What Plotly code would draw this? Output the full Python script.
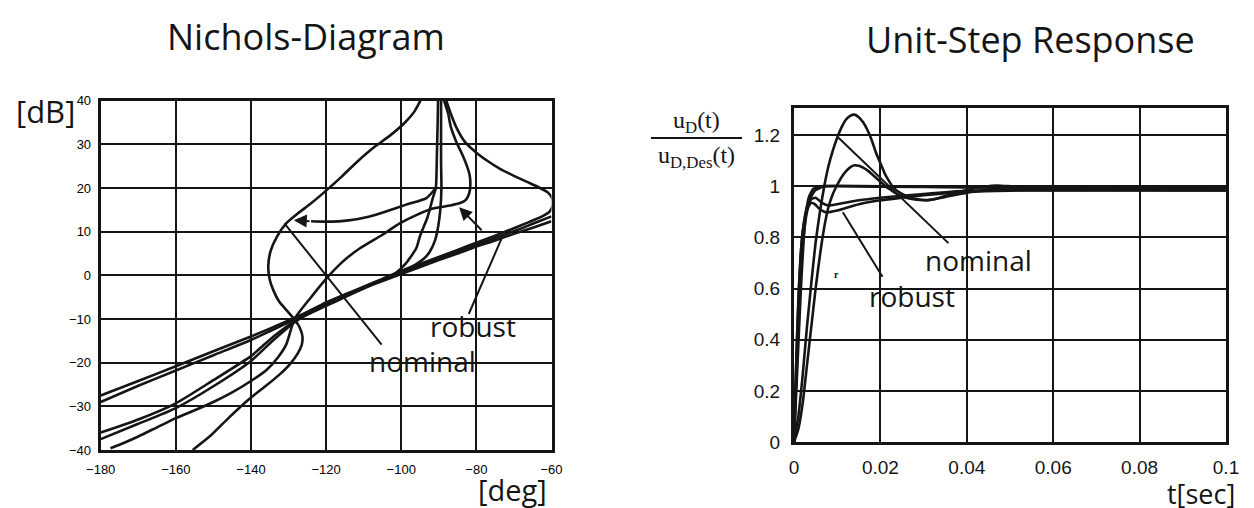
import plotly.graph_objects as go

W, H = 1254, 508

# ---------------- Nichols diagram data (phase [deg], gain [dB]) ----------------
nom_deg = [-94.9, -96.5, -99, -103, -107, -111.5, -116, -120, -124, -127.5, -130.5, -133, -134.8, -135.4,
           -135, -134, -132.5, -130.5, -128.5, -127, -126.3, -126.5, -127.5, -129.5, -132.5, -136, -140,
           -146, -150.5, -155.5]
nom_db = [40, 37.5, 35, 32, 29.5, 26.2, 22.5, 19.4, 16.5, 14.2, 12, 9, 5.5, 2,
          -1, -3.5, -6, -8, -10, -12, -14, -16, -17.8, -20.2, -22.8, -25.3, -28,
          -32.7, -36.5, -40]

c_deg = [-88.6, -87.5, -86.8, -85.3, -83.6, -82.5, -81.8, -81.6, -81.9, -82.8, -84.5, -87, -91.6, -96,
         -100.4, -105, -111, -115.5, -120, -124, -128.4, -130.6, -133, -136, -140, -145, -150, -155,
         -160, -165, -170, -175, -177.4]
c_db = [40, 37, 34, 30.5, 27.4, 25, 23, 20.8, 18.8, 17.3, 16.5, 16.0, 15.3, 13.8,
        11.9, 9.3, 6.2, 3.2, -0.8, -5, -10, -15.8, -19, -21.8, -24.2, -26.8, -29, -30.9,
        -32.7, -34.8, -36.9, -38.8, -39.6]

r_deg = [-88, -86.8, -85.4, -83, -80, -77, -73.7, -70, -66.5, -63.5, -61, -59.8, -59.7, -60.5, -62.5,
         -66, -70, -75, -80, -85, -90, -95, -100, -105, -110, -115, -120, -124, -128, -135, -140,
         -150, -160, -170, -180]
r_db = [40, 37, 34, 30.5, 28.1, 26.2, 24.4, 22.8, 21.4, 20.2, 19, 17.6, 16, 14.6, 13.5,
        12.2, 10.8, 9.1, 7.5, 5.8, 4.2, 2.6, 1.0, -0.8, -2.6, -4.4, -6.2, -8, -9.6, -12.2, -14,
        -17.4, -20.8, -24.2, -27.5]

v1_deg = [-90.2, -90.3, -90.5, -90.8, -91.6, -93, -95, -96, -99, -102, -106, -110, -115, -120, -124,
          -128, -134, -140, -150, -160, -170, -180]
v1_db = [40, 35, 28, 20, 17.7, 13.3, 9, 6.2, 2.5, 0.2, -1.4, -3, -5, -7, -8.6,
         -10.3, -14, -18.5, -24, -29.3, -33, -36]

v2_deg = [-89.4, -89.4, -89.4, -89.3, -89.6, -90.2, -91, -92.4, -94, -96, -100, -105, -110, -115,
          -120, -124, -128, -134, -140, -150, -160, -170, -180]
v2_db = [40, 33, 26, 20, 15, 11, 8, 5.4, 3.8, 2.6, 0.8, -1, -2.8, -4.8,
         -6.7, -8.4, -10.5, -14.8, -19.6, -25.4, -30.4, -34, -37.5]

a2_deg = [-60, -65, -70, -75, -80, -85, -90, -95, -100, -105, -110, -115, -120, -124, -128, -135,
          -140, -150, -160, -170, -180]
a2_db = [12.4, 10.9, 9.5, 8.0, 6.6, 5.0, 3.5, 1.9, 0.3, -1.3, -2.9, -4.6, -6.4, -8, -9.9, -12.8,
         -14.8, -18.3, -21.8, -25.3, -29]

a3_deg = [-60, -65, -70, -80, -90, -100, -110, -120, -128]
a3_db = [13.5, 11.8, 10.1, 7.0, 3.9, 0.8, -2.7, -6.3, -10]

# curved arrow (peak shift)
arc_deg = [-90.8, -93.3, -98.7, -103.5, -108.4, -114, -120, -124]
arc_db = [20, 17.7, 16.2, 14.8, 13.5, 12.6, 12.3, 12.4]

nich_xticks = [-180, -160, -140, -120, -100, -80, -60]
nich_yticks = [-40, -30, -20, -10, 0, 10, 20, 30, 40]

# ---------------- Unit-step response data ----------------
s1_t = [0, 0.001, 0.002, 0.003, 0.004, 0.005, 0.006, 0.007, 0.008, 0.009, 0.010, 0.011, 0.012, 0.013,
        0.014, 0.015, 0.016, 0.017, 0.018, 0.019, 0.020, 0.021, 0.022, 0.023, 0.025, 0.027, 0.029, 0.031,
        0.033, 0.036, 0.040, 0.044, 0.047, 0.050, 0.055, 0.060, 0.070, 0.080, 0.090, 0.100]
s1_v = [0, 0.10, 0.26, 0.45, 0.62, 0.78, 0.90, 1.00, 1.08, 1.14, 1.19, 1.23, 1.26, 1.275,
        1.28, 1.27, 1.25, 1.22, 1.18, 1.13, 1.09, 1.05, 1.02, 0.995, 0.97, 0.955, 0.948, 0.945,
        0.952, 0.968, 0.985, 0.998, 1.003, 1.0, 0.993, 0.99, 0.988, 0.987, 0.986, 0.986]

s2_t = [0, 0.001, 0.002, 0.003, 0.004, 0.005, 0.006, 0.007, 0.008, 0.009, 0.010, 0.011, 0.012, 0.013,
        0.014, 0.015, 0.016, 0.017, 0.018, 0.019, 0.020, 0.022, 0.024, 0.026, 0.028, 0.030, 0.032, 0.035,
        0.040, 0.045, 0.050, 0.060, 0.080, 0.100]
s2_v = [0, 0.05, 0.15, 0.30, 0.45, 0.60, 0.73, 0.84, 0.92, 0.97, 1.005, 1.035, 1.058, 1.074,
        1.082, 1.08, 1.073, 1.062, 1.048, 1.033, 1.018, 0.99, 0.968, 0.955, 0.948, 0.945, 0.948, 0.958,
        0.975, 0.987, 0.99, 0.989, 0.987, 0.986]

s3_t = [0, 0.0005, 0.001, 0.0015, 0.002, 0.003, 0.004, 0.005, 0.007, 0.010, 0.020, 0.030, 0.050, 0.070, 0.100]
s3_v = [0, 0.30, 0.55, 0.72, 0.82, 0.92, 0.96, 0.985, 1.0, 1.002, 1.0, 0.998, 0.995, 0.993, 0.99]

s4_t = [0, 0.0006, 0.0012, 0.002, 0.003, 0.004, 0.0048, 0.006, 0.0075, 0.010, 0.015, 0.020, 0.025,
        0.030, 0.040, 0.050, 0.060, 0.100]
s4_v = [0, 0.35, 0.62, 0.82, 0.91, 0.935, 0.93, 0.91, 0.898, 0.905, 0.93, 0.945, 0.955,
        0.965, 0.978, 0.983, 0.984, 0.984]

s5_t = [0, 0.0007, 0.0014, 0.0022, 0.003, 0.004, 0.005, 0.0065, 0.008, 0.010, 0.015, 0.020, 0.030,
        0.040, 0.060, 0.100]
s5_v = [0, 0.33, 0.60, 0.80, 0.90, 0.95, 0.955, 0.935, 0.925, 0.93, 0.945, 0.955, 0.97,
        0.982, 0.985, 0.985]

s6_t = [0, 0.0008, 0.0016, 0.0025, 0.0035, 0.0045, 0.006, 0.010, 0.020, 0.040, 0.060, 0.100]
s6_v = [0, 0.30, 0.60, 0.85, 0.96, 0.99, 1.0, 1.0, 0.998, 0.996, 0.993, 0.992]

step_xticks = [0, 0.02, 0.04, 0.06, 0.08, 0.1]
step_xlabels = ["0", "0.02", "0.04", "0.06", "0.08", "0.1"]
step_yticks = [0, 0.2, 0.4, 0.6, 0.8, 1.0, 1.2]
step_ylabels = ["0", "0.2", "0.4", "0.6", "0.8", "1", "1.2"]

# ---------------- figure ----------------
INK = "#151515"
LW = 2.6

fig = go.Figure()

nichols = [(nom_deg, nom_db), (c_deg, c_db), (r_deg, r_db), (v1_deg, v1_db), (v2_deg, v2_db),
           (a2_deg, a2_db), (a3_deg, a3_db), (arc_deg, arc_db)]
for xs, ys in nichols:
    fig.add_trace(go.Scatter(x=xs, y=ys, mode="lines", line=dict(color=INK, width=LW, shape="spline", smoothing=0.6),
                             xaxis="x", yaxis="y", showlegend=False, hoverinfo="skip", cliponaxis=True))

steps = [(s1_t, s1_v), (s2_t, s2_v), (s3_t, s3_v), (s4_t, s4_v), (s5_t, s5_v), (s6_t, s6_v)]
for xs, ys in steps:
    fig.add_trace(go.Scatter(x=xs, y=ys, mode="lines", line=dict(color=INK, width=LW, shape="spline", smoothing=0.5),
                             xaxis="x2", yaxis="y2", showlegend=False, hoverinfo="skip", cliponaxis=True))


def px(x):
    return x / W


def py(y):
    return 1 - y / H


axis_common = dict(showline=True, mirror=True, linecolor=INK, linewidth=3, showgrid=True,
                   gridcolor=INK, gridwidth=1.6, zeroline=False, ticks="outside",
                   tickcolor="rgba(0,0,0,0)", fixedrange=True, automargin=False)

fig.update_layout(
    width=W, height=H, margin=dict(l=0, r=0, t=0, b=0, autoexpand=False),
    paper_bgcolor="white", plot_bgcolor="white",
    xaxis=dict(domain=[px(100.7), px(551.5)], range=[-180, -60], tickvals=nich_xticks,
               ticklen=5, tickfont=dict(family="Liberation Sans, Arial", size=13, color="#000"),
               anchor="y", **axis_common),
    yaxis=dict(domain=[py(450), py(100.7)], range=[-40, 40], tickvals=nich_yticks,
               ticklen=4, tickfont=dict(family="Liberation Sans, Arial", size=13, color="#000"),
               anchor="x", **axis_common),
    xaxis2=dict(domain=[px(794), px(1226)], range=[0, 0.1], tickvals=step_xticks, ticktext=step_xlabels,
                ticklen=6, tickfont=dict(family="Liberation Sans, Arial", size=19, color=INK),
                anchor="y2", **axis_common),
    yaxis2=dict(domain=[py(442), py(108)], range=[0, 1.306], tickvals=step_yticks, ticktext=step_ylabels,
                ticklen=7, tickfont=dict(family="Liberation Sans, Arial", size=19, color=INK),
                anchor="x2", **axis_common),
    hovermode=False,
)

TXT = "Open Sans, Noto Sans, sans-serif"


def label(text, x, y, size, family=TXT, xanchor="center"):
    return dict(text=text, x=px(x), y=py(y), xref="paper", yref="paper", xanchor=xanchor,
                yanchor="middle", showarrow=False, font=dict(family=family, size=size, color=INK))


ann = []
# titles and axis labels
ann.append(label("Nichols-Diagram", 306, 37, 36))
ann.append(label("Unit-Step Response", 1030, 40, 36))
ann.append(label("[dB]", 45, 111, 31))
ann.append(label("[deg]", 512, 489, 29))
ann.append(label("t[sec]", 1237, 493, 27, xanchor="right"))
# fraction label
SER = "Liberation Serif, DejaVu Serif, serif"
ann.append(label("u<sub>D</sub>(t)", 696, 122, 24, family=SER))
ann.append(label("u<sub>D,Des</sub>(t)", 696, 157, 24, family=SER))
# in-plot labels
ann.append(dict(text="nominal", x=-109.1, y=-19.6, xref="x", yref="y", xanchor="left", yanchor="middle",
                showarrow=False, font=dict(family=TXT, size=28, color=INK)))
ann.append(dict(text="robust", x=-92.8, y=-11.6, xref="x", yref="y", xanchor="left", yanchor="middle",
                showarrow=False, font=dict(family=TXT, size=28, color=INK)))
ann.append(dict(text="nominal", x=0.0427, y=0.71, xref="x2", yref="y2", xanchor="center", yanchor="middle",
                showarrow=False, font=dict(family=TXT, size=28, color=INK)))
ann.append(dict(text="robust", x=0.0272, y=0.572, xref="x2", yref="y2", xanchor="center", yanchor="middle",
                showarrow=False, font=dict(family=TXT, size=28, color=INK)))
ann.append(dict(text="<b>r</b>", x=0.0099, y=0.655, xref="x2", yref="y2", xanchor="center", yanchor="middle",
                showarrow=False, font=dict(family=SER, size=10, color=INK)))


def pointer(x, y, ax, ay, xr, yr, head=0):
    return dict(text="", x=x, y=y, ax=ax, ay=ay, xref=xr, yref=yr, axref=xr, ayref=yr,
                showarrow=True, arrowhead=head, arrowsize=1.3, arrowwidth=2, arrowcolor=INK, standoff=0)


# pointer lines (Nichols)
ann.append(pointer(-131.1, 11.9, -104.9, -16.2, "x", "y"))
ann.append(pointer(-72.9, 9.2, -82.2, -9.2, "x", "y"))
ann.append(pointer(-84.6, 15.6, -78.2, 10.0, "x", "y", head=2))
ann.append(pointer(-128.6, 12.6, -124, 12.4, "x", "y", head=2))
# pointer lines (step response)
ann.append(pointer(0.0103, 1.19, 0.0361, 0.772, "x2", "y2"))
ann.append(pointer(0.0113, 0.898, 0.0207, 0.64, "x2", "y2"))

fig.update_layout(annotations=ann)
fig.add_shape(type="line", xref="paper", yref="paper", x0=px(651), x1=px(742), y0=py(138), y1=py(138),
              line=dict(color=INK, width=2))

fig.write_html("out.html", config={"displayModeBar": False},
               post_script="document.body.style.margin='0';document.body.style.overflow='hidden';")
